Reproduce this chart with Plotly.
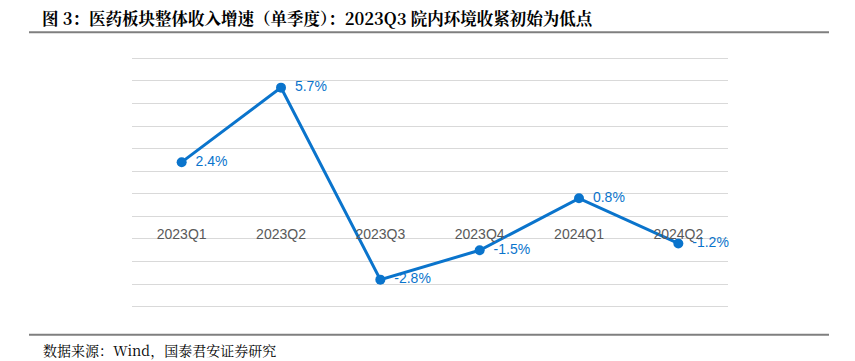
import plotly.graph_objects as go

categories = ["2023Q1", "2023Q2", "2023Q3", "2023Q4", "2024Q1", "2024Q2"]
growth = [2.4, 5.7, -2.8, -1.5, 0.8, -1.2]
labels = [f"\u00a0\u2009{v:.1f}%" for v in growth]

title_text = "图 3：医药板块整体收入增速（单季度）：2023Q3 院内环境收紧初始为低点"
source_text = "数据来源：Wind，国泰君安证券研究"

# page body has an 8px margin, so the figure is laid out 8px smaller
OFF = 8
W, H = 855 - OFF, 361 - OFF
ymin, ymax = -4, 7
pad = 0.1
unit_px = 249 / (ymax - ymin)
L, R = 132 - OFF, 127
T = 58 - OFF - pad * unit_px
B = 54 - pad * unit_px
pw, ph = W - L - R, H - T - B

def px_x(p):
    return (p - OFF - L) / pw

def px_y(p):
    return (H - B - (p - OFF)) / ph

blue = "#0A74CC"
serif = "Noto Serif CJK SC, Liberation Serif, Noto Sans CJK SC, serif"

fig = go.Figure()
fig.add_trace(go.Scatter(
    x=categories, y=growth, mode="lines+markers+text",
    line=dict(color=blue, width=3),
    marker=dict(color=blue, size=10),
    text=labels, textposition="middle right",
    textfont=dict(family="Liberation Sans, Arial, sans-serif", size=14, color=blue),
    cliponaxis=False, showlegend=False, hoverinfo="skip",
))

fig.update_layout(
    width=W, height=H,
    margin=dict(l=L, r=R, t=T, b=B),
    paper_bgcolor="white", plot_bgcolor="white",
    title=dict(
        text="<b>" + title_text + "</b>",
        xref="container", yref="container",
        x=(42 - OFF) / W, y=1 - (19 - OFF) / H, xanchor="left", yanchor="middle",
        font=dict(family=serif, size=16.5, color="black"),
    ),
    xaxis=dict(
        type="category", range=[-0.5, 5.5],
        anchor="free", position=(0 - (ymin - pad)) / (ymax - ymin + 2 * pad),
        showline=False, showgrid=False, zeroline=False,
        ticks="", ticklabelstandoff=8,
        tickfont=dict(family="Liberation Sans, Arial, sans-serif", size=14, color="#595959"),
    ),
    yaxis=dict(
        range=[ymin - pad, ymax + pad], dtick=1, tick0=0,
        showgrid=True, gridcolor="#D9D9D9", gridwidth=1,
        zeroline=False, showticklabels=False, showline=False,
    ),
    shapes=[
        dict(type="line", xref="paper", yref="paper",
             x0=px_x(29), x1=px_x(829), y0=px_y(32), y1=px_y(32),
             line=dict(color="#7F7F7F", width=2)),
        dict(type="line", xref="paper", yref="paper",
             x0=px_x(29), x1=px_x(829), y0=px_y(335), y1=px_y(335),
             line=dict(color="#7F7F7F", width=2)),
    ],
    annotations=[
        dict(text=source_text, xref="paper", yref="paper",
             x=px_x(41), y=px_y(350), xanchor="left", yanchor="middle",
             showarrow=False,
             font=dict(family=serif, size=14, color="black")),
    ],
)

fig.write_html("out.html")
